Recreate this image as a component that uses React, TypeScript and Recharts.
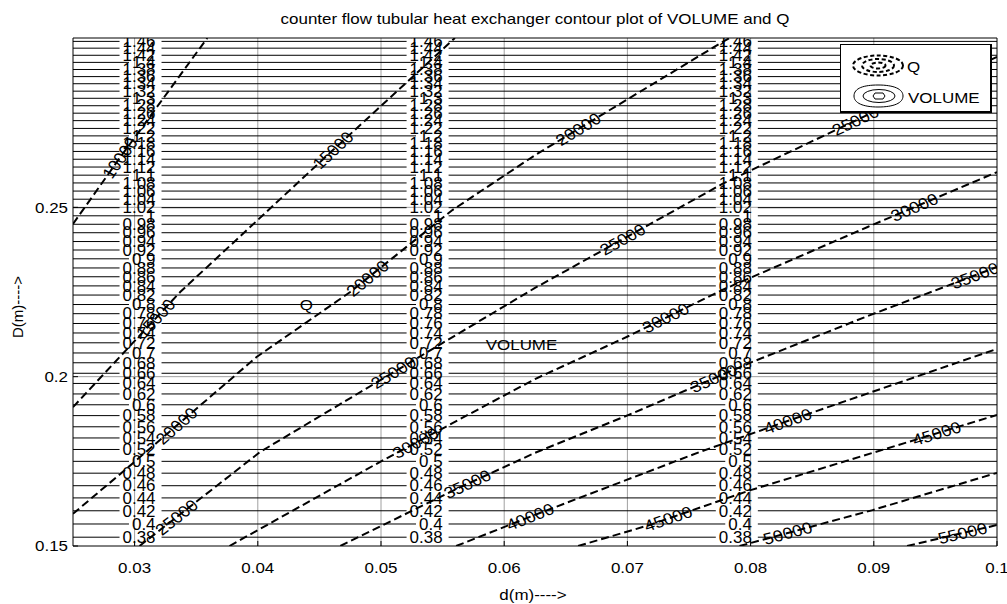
import React from 'react';
import { ComposedChart, Line, Scatter, XAxis, YAxis, CartesianGrid, Legend } from 'recharts';

// ---------- data ----------
const xTicks = [0.03, 0.04, 0.05, 0.06, 0.07, 0.08, 0.09, 0.1];
const yTicks = [0.15, 0.2, 0.25];
const xDomain = [0.025, 0.1];
const yDomain = [0.15, 0.3];

const volumeLevels = [0.38, 0.4, 0.42, 0.44, 0.46, 0.48, 0.5, 0.52, 0.54, 0.56, 0.58, 0.6, 0.62, 0.64, 0.66, 0.68, 0.7, 0.72, 0.74, 0.76, 0.78, 0.8, 0.82, 0.84, 0.86, 0.88, 0.9, 0.92, 0.94, 0.96, 0.98, 1, 1.02, 1.04, 1.06, 1.08, 1.1, 1.12, 1.14, 1.16, 1.18, 1.2, 1.22, 1.24, 1.26, 1.28, 1.3, 1.32, 1.34, 1.36, 1.38, 1.4, 1.42, 1.44, 1.46];
const volumeD = [0.1526, 0.1565, 0.1604, 0.1642, 0.1678, 0.1715, 0.175, 0.1785, 0.1819, 0.1852, 0.1885, 0.1917, 0.1949, 0.198, 0.201, 0.2041, 0.207, 0.21, 0.2129, 0.2157, 0.2186, 0.2213, 0.2241, 0.2268, 0.2295, 0.2321, 0.2348, 0.2374, 0.2399, 0.2425, 0.245, 0.2475, 0.2499, 0.2524, 0.2548, 0.2572, 0.2595, 0.2619, 0.2642, 0.2665, 0.2688, 0.2711, 0.2733, 0.2756, 0.2778, 0.28, 0.2822, 0.2843, 0.2865, 0.2886, 0.2907, 0.2928, 0.2949, 0.297, 0.299];
const volumeLabelCols = [0.0317, 0.055, 0.0801];

const q10000 = [{ d: 0.025, D: 0.2451 }, { d: 0.0288, D: 0.2646 }, { d: 0.0359, D: 0.3 }];
const q15000 = [{ d: 0.025, D: 0.191 }, { d: 0.0337, D: 0.225 }, { d: 0.0461, D: 0.2669 }, { d: 0.056, D: 0.3 }];
const q20000 = [{ d: 0.025, D: 0.1595 }, { d: 0.0293, D: 0.1727 }, { d: 0.0399, D: 0.2058 }, { d: 0.0475, D: 0.225 }, { d: 0.0558, D: 0.2492 }, { d: 0.0625, D: 0.2654 }, { d: 0.0777, D: 0.2988 }, { d: 0.0783, D: 0.3 }];
const q25000 = [{ d: 0.0304, D: 0.15 }, { d: 0.0402, D: 0.1778 }, { d: 0.0524, D: 0.2043 }, { d: 0.0625, D: 0.2262 }, { d: 0.0777, D: 0.2569 }, { d: 0.0895, D: 0.2773 }, { d: 0.1, D: 0.2944 }];
const q30000 = [{ d: 0.0377, D: 0.15 }, { d: 0.0499, D: 0.1748 }, { d: 0.0625, D: 0.1993 }, { d: 0.0701, D: 0.212 }, { d: 0.0777, D: 0.2256 }, { d: 0.0895, D: 0.2442 }, { d: 0.1, D: 0.2604 }];
const q35000 = [{ d: 0.0467, D: 0.15 }, { d: 0.0561, D: 0.1668 }, { d: 0.0625, D: 0.1775 }, { d: 0.0701, D: 0.1887 }, { d: 0.0801, D: 0.2043 }, { d: 0.0895, D: 0.2179 }, { d: 0.1, D: 0.2324 }];
const q40000 = [{ d: 0.0561, D: 0.15 }, { d: 0.0625, D: 0.1592 }, { d: 0.0759, D: 0.1778 }, { d: 0.083, D: 0.1869 }, { d: 0.1, D: 0.2082 }];
const q45000 = [{ d: 0.066, D: 0.15 }, { d: 0.0718, D: 0.1562 }, { d: 0.08, D: 0.1665 }, { d: 0.0899, D: 0.1775 }, { d: 0.1, D: 0.1887 }];
const q50000 = [{ d: 0.0791, D: 0.15 }, { d: 0.0899, D: 0.1606 }, { d: 0.1, D: 0.1716 }];
const q55000 = [{ d: 0.0927, D: 0.15 }, { d: 0.1, D: 0.1562 }];

const qLines = [
  { level: 10000, points: q10000 },
  { level: 15000, points: q15000 },
  { level: 20000, points: q20000 },
  { level: 25000, points: q25000 },
  { level: 30000, points: q30000 },
  { level: 35000, points: q35000 },
  { level: 40000, points: q40000 },
  { level: 45000, points: q45000 },
  { level: 50000, points: q50000 },
  { level: 55000, points: q55000 },
];

const qLabelSpots = [
  { level: 10000, d: 0.0288 },
  { level: 15000, d: 0.0317 }, { level: 15000, d: 0.0461 },
  { level: 20000, d: 0.0334 }, { level: 20000, d: 0.0489 }, { level: 20000, d: 0.066 },
  { level: 25000, d: 0.0334 }, { level: 25000, d: 0.051 }, { level: 25000, d: 0.0696 }, { level: 25000, d: 0.0885 },
  { level: 30000, d: 0.0528 }, { level: 30000, d: 0.0731 }, { level: 30000, d: 0.0933 },
  { level: 35000, d: 0.057 }, { level: 35000, d: 0.077 }, { level: 35000, d: 0.0982 },
  { level: 40000, d: 0.0621 }, { level: 40000, d: 0.083 },
  { level: 45000, d: 0.0733 }, { level: 45000, d: 0.0951 },
  { level: 50000, d: 0.083 },
  { level: 55000, d: 0.0972 },
];

const annotations = [
  { d: 0.0434, D: 0.2212, text: 'Q' },
  { d: 0.0585, D: 0.2096, text: 'VOLUME' },
];

const legendItems = ['Q', 'VOLUME'];
const titleText = 'counter flow tubular heat exchanger contour plot of VOLUME and Q';
const xLabelText = 'd(m)---->';
const yLabelText = 'D(m)---->';

// ---------- layout / style ----------
const FONT = '"Liberation Sans", Arial, Helvetica, sans-serif';
const FS = 15;
const SX = 1.13;
const VFS = 16;
const VSX = 1.06;
const CHART_W = 1007;
const CHART_H = 604;
const MARGIN = { top: 37, right: 9, bottom: 0, left: 13 };
const Y_AXIS_W = 60;
const X_AXIS_H = 58;
const PLOT_W = CHART_W - MARGIN.left - MARGIN.right - Y_AXIS_W - 1;
const PLOT_H = CHART_H - MARGIN.top - 1 - X_AXIS_H;
const pxPerX = PLOT_W / (xDomain[1] - xDomain[0]);
const pxPerY = PLOT_H / (yDomain[1] - yDomain[0]);

const textWidth = (s: string) =>
  s.split('').reduce((w, c) => w + (c === '.' ? 0.278 : 0.556), 0) * VFS * VSX;

const volumeLineData = volumeLevels.map((lv, i) => {
  const D = volumeD[i];
  const w = textWidth(String(lv));
  const pts: any[] = [{ d: xDomain[0], D }];
  volumeLabelCols.forEach((c) => {
    const s = c - (w + 3) / pxPerX;
    const e = c + 6 / pxPerX;
    pts.push({ d: s, D }, { d: s, D: null }, { d: e, D });
  });
  pts.push({ d: xDomain[1], D });
  return { level: lv, pts };
});

const volumeLabelData = volumeLabelCols.flatMap((c) =>
  volumeLevels.map((lv, i) => ({ d: c, D: volumeD[i], text: String(lv) }))
);

function spotOnLine(points: { d: number; D: number }[], d: number) {
  for (let i = 0; i < points.length - 1; i++) {
    const a = points[i];
    const b = points[i + 1];
    if (d >= a.d && d <= b.d) {
      const t = (d - a.d) / (b.d - a.d);
      const dx = (b.d - a.d) * pxPerX;
      const dy = -(b.D - a.D) * pxPerY;
      const theta = Math.atan2(dy, dx);
      const rot = (Math.atan(SX * Math.tan(theta)) * 180) / Math.PI;
      return { D: a.D + t * (b.D - a.D), rot };
    }
  }
  return { D: points[0].D, rot: 0 };
}

const qLabelData = qLabelSpots.map((s) => {
  const line = qLines.find((l) => l.level === s.level)!;
  const p = spotOnLine(line.points, s.d);
  return { d: s.d, D: p.D, text: String(s.level), rot: p.rot };
});

// ---------- renderers ----------
const BottomTick = (p: any) => (
  <text transform={`translate(${p.x},${p.y}) scale(${SX},1)`} dy="0.71em" textAnchor="middle" fontSize={FS} fontFamily={FONT} fill="#000">
    {String(p.payload.value)}
  </text>
);
const LeftTick = (p: any) => (
  <text transform={`translate(${p.x},${p.y}) scale(${SX},1)`} dy="0.355em" textAnchor="end" fontSize={FS} fontFamily={FONT} fill="#000">
    {String(p.payload.value)}
  </text>
);

const VolLabel = (p: any) => (
  <text transform={`translate(${p.cx},${p.cy}) scale(${VSX},1)`} dy="0.36em" textAnchor="end" fontSize={VFS} fontFamily={FONT} fill="#000">
    {p.payload.text}
  </text>
);
const QLabel = (p: any) => (
  <text transform={`translate(${p.cx},${p.cy}) scale(${SX},1) rotate(${p.payload.rot})`} dy="0.36em" textAnchor="middle" fontSize={16} fontFamily={FONT} fill="#000">
    {p.payload.text}
  </text>
);
const NoteLabel = (p: any) => (
  <text transform={`translate(${p.cx},${p.cy}) scale(${SX},1)`} dy="0.36em" textAnchor="start" fontSize={FS} fontFamily={FONT} fill="#000">
    {p.payload.text}
  </text>
);

const XLabel = () => (
  <text transform={`translate(533,595) scale(${SX},1)`} dy="0.36em" textAnchor="middle" fontSize={FS} fontFamily={FONT} fill="#000">
    {xLabelText}
  </text>
);
const YLabel = () => (
  <text transform="translate(18,307) rotate(-90)" dy="0.36em" textAnchor="middle" fontSize={FS} fontFamily={FONT} fill="#000">
    {yLabelText}
  </text>
);

const QIcon = () => (
  <svg width={56} height={25}>
    <g fill="none" stroke="#000" strokeWidth={2} strokeDasharray="4 2.5">
      <ellipse cx={28} cy={12.5} rx={25} ry={10} />
      <ellipse cx={28} cy={12.5} rx={16} ry={6.5} />
      <ellipse cx={28} cy={12.5} rx={7.5} ry={3} />
    </g>
  </svg>
);
const VIcon = () => (
  <svg width={56} height={26}>
    <g fill="none" stroke="#000" strokeWidth={1}>
      <path d="M4 13 C4 5 14 2 28 2 C44 2 53 6 53 13 C53 20 44 24 28 24 C13 24 4 20 4 13 Z" />
      <ellipse cx={29} cy={13} rx={16} ry={6.5} />
      <path d="M23 13 L25 10 L33 10 L35 13 L33 16 L25 16 Z" />
    </g>
  </svg>
);

const LegendBox = () => (
  <div
    style={{
      position: 'relative',
      width: 152,
      height: 69,
      boxSizing: 'border-box',
      border: '1px solid #000',
      borderRightWidth: 2,
      borderBottomWidth: 2,
      background: '#fff',
      fontFamily: FONT,
      fontSize: FS,
      color: '#000',
    }}
  >
    {legendItems.map((name, i) => (
      <React.Fragment key={name}>
        <div style={{ position: 'absolute', left: 9, top: i === 0 ? 8 : 38, lineHeight: 0 }}>
          {i === 0 ? <QIcon /> : <VIcon />}
        </div>
        <span
          style={{
            position: 'absolute',
            left: i === 0 ? 66 : 67,
            top: i === 0 ? 14 : 45,
            lineHeight: '15px',
            whiteSpace: 'nowrap',
            transform: `scaleX(${SX})`,
            transformOrigin: 'left center',
          }}
        >
          {name}
        </span>
      </React.Fragment>
    ))}
  </div>
);

export default function App() {
  return (
    <div style={{ position: 'absolute', left: 0, top: 0, width: CHART_W, height: CHART_H, background: '#fff', overflow: 'hidden' }}>
      <ComposedChart width={CHART_W} height={CHART_H} margin={MARGIN}>
        <CartesianGrid
          stroke="#a0a0a0"
          strokeWidth={1}
          horizontalValues={[0.2, 0.25]}
          verticalValues={[0.03, 0.04, 0.05, 0.06, 0.07, 0.08, 0.09]}
        />
        <XAxis
          dataKey="d"
          type="number"
          domain={xDomain}
          ticks={xTicks}
          allowDataOverflow
          height={X_AXIS_H}
          tickSize={-5}
          tickMargin={21}
          tick={<BottomTick />}
          stroke="#000"
          axisLine={{ stroke: '#000' }}
          tickLine={{ stroke: '#000' }}
          label={<XLabel />}
        />
        <XAxis
          xAxisId="top"
          orientation="top"
          type="number"
          domain={xDomain}
          ticks={xTicks}
          allowDataOverflow
          height={1}
          tickSize={-5}
          tick={false}
          axisLine={{ stroke: '#000' }}
          tickLine={{ stroke: '#000' }}
        />
        <YAxis
          dataKey="D"
          type="number"
          domain={yDomain}
          ticks={yTicks}
          allowDataOverflow
          width={Y_AXIS_W}
          tickSize={-5}
          tickMargin={10}
          tick={<LeftTick />}
          axisLine={{ stroke: '#000' }}
          tickLine={{ stroke: '#000' }}
          label={<YLabel />}
        />
        <YAxis
          yAxisId="right"
          orientation="right"
          type="number"
          domain={yDomain}
          ticks={yTicks}
          allowDataOverflow
          width={1}
          tickSize={-5}
          tick={false}
          axisLine={{ stroke: '#000' }}
          tickLine={{ stroke: '#000' }}
        />

        {volumeLineData.map((v) => (
          <Line
            key={`v${v.level}`}
            data={v.pts}
            dataKey="D"
            type="linear"
            stroke="#000"
            strokeWidth={1}
            dot={false}
            activeDot={false}
            isAnimationActive={false}
            legendType="none"
          />
        ))}
        <Scatter data={volumeLabelData} dataKey="D" shape={<VolLabel />} isAnimationActive={false} legendType="none" />

        {qLines.map((q) => (
          <Line
            key={`q${q.level}`}
            data={q.points}
            dataKey="D"
            type="linear"
            stroke="#000"
            strokeWidth={2}
            strokeDasharray="8 4"
            dot={false}
            activeDot={false}
            isAnimationActive={false}
            legendType="none"
          />
        ))}
        <Scatter data={qLabelData} dataKey="D" shape={<QLabel />} isAnimationActive={false} legendType="none" />
        <Scatter data={annotations} dataKey="D" shape={<NoteLabel />} isAnimationActive={false} legendType="none" />

        <Legend
          content={<LegendBox />}
          layout="vertical"
          align="center"
          verticalAlign="middle"
          wrapperStyle={{ left: 840, top: 44, width: 152, height: 69 }}
        />
      </ComposedChart>
      <div
        style={{
          position: 'absolute',
          left: 85,
          top: 11,
          width: 900,
          textAlign: 'center',
          fontFamily: FONT,
          fontSize: FS,
          lineHeight: '15px',
          color: '#000',
          transform: `scaleX(${SX})`,
          transformOrigin: 'center',
          whiteSpace: 'nowrap',
        }}
      >
        {titleText}
      </div>
    </div>
  );
}
